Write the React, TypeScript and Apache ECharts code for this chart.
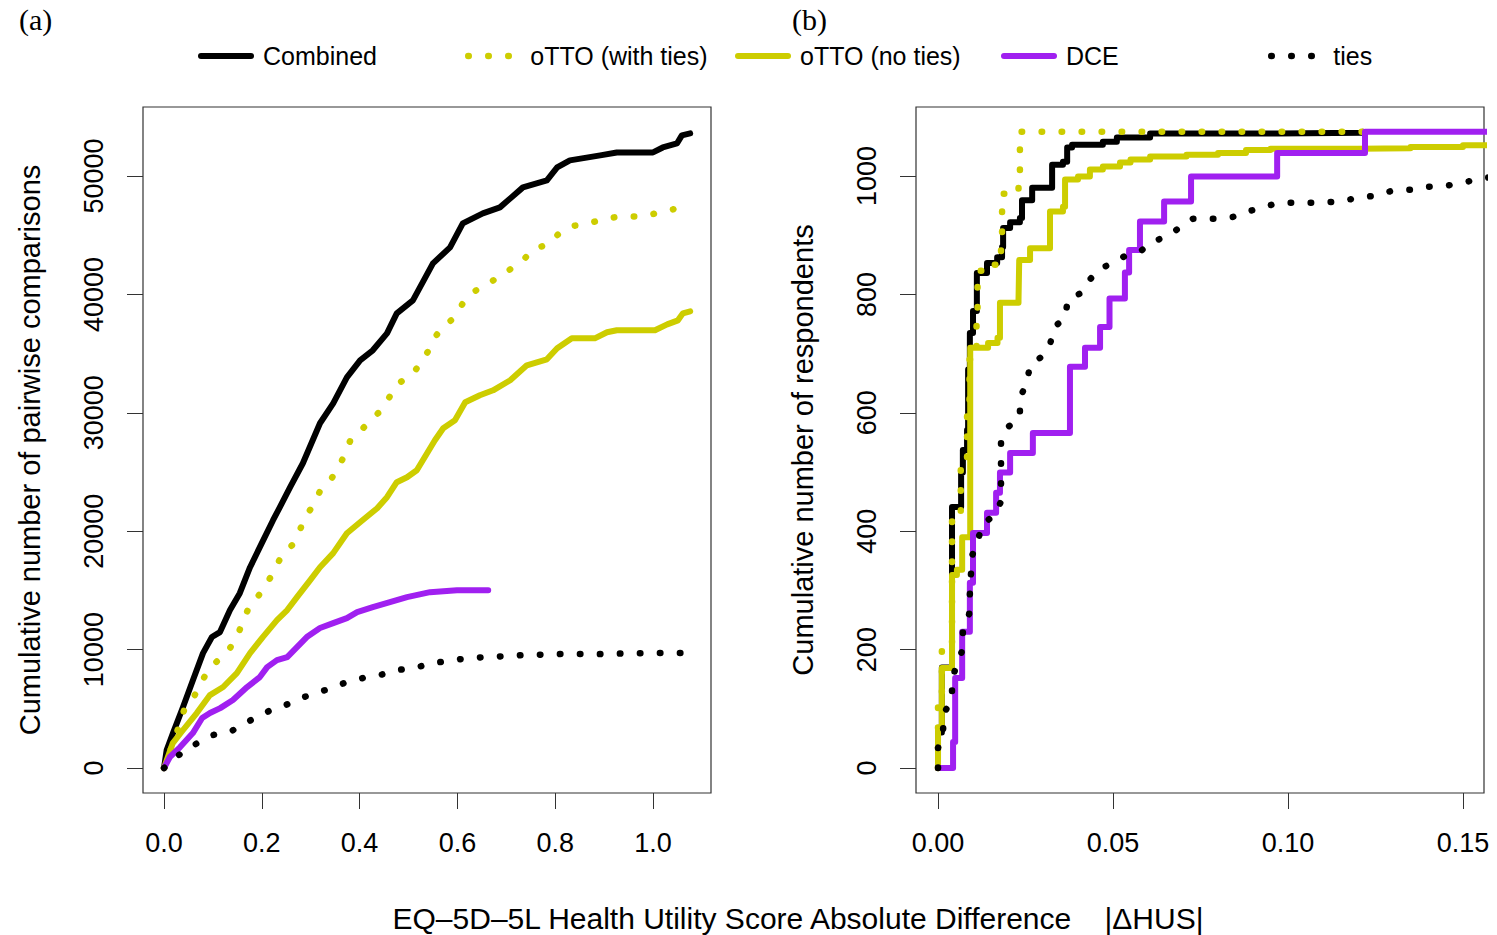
import React, { useEffect, useRef } from "react";
import * as echarts from "echarts";

// Series identity, shared by both panels
const seriesNames = ["Combined", "oTTO (with ties)", "oTTO (no ties)", "DCE", "ties"];
const seriesColors = ["#000000", "#CDCD00", "#CDCD00", "#A020F0", "#000000"];
const seriesDotted = [false, true, false, false, true];

// Tick values
const xTicksA = [0, 0.2, 0.4, 0.6, 0.8, 1.0];
const yTicksA = [0, 10000, 20000, 30000, 40000, 50000];
const xTicksB = [0, 0.05, 0.1, 0.15];
const yTicksB = [0, 200, 400, 600, 800, 1000];

// Panel (a): cumulative number of pairwise comparisons vs |ΔHUS|
const combinedA = [
  [0, 0], [0.0055, 1520], [0.0184, 2950], [0.0389, 5150], [0.0593, 7430], [0.0798, 9700],
  [0.098, 11060], [0.1145, 11480], [0.135, 13340], [0.155, 14770], [0.176, 16960], [0.196, 18650],
  [0.223, 20930], [0.237, 22030], [0.258, 23720], [0.284, 25740], [0.319, 29120], [0.346, 30800],
  [0.374, 33000], [0.401, 34430], [0.427, 35280], [0.456, 36710], [0.476, 38400], [0.509, 39500],
  [0.55, 42620], [0.585, 43970], [0.611, 46000], [0.652, 46840], [0.687, 47350], [0.734, 49040],
  [0.783, 49630], [0.804, 50720], [0.83, 51320], [0.892, 51740], [0.926, 51990], [1.0, 51990],
  [1.02, 52410], [1.049, 52750], [1.059, 53430], [1.076, 53600],
];
const withTiesA = [
  [0, 0], [0.015, 1700], [0.033, 3800], [0.043, 5150], [0.063, 6160], [0.09, 8270], [0.115, 9280],
  [0.135, 10130], [0.151, 11230], [0.162, 12490], [0.176, 13760], [0.194, 14600], [0.211, 15610],
  [0.227, 16800], [0.241, 17980], [0.262, 18820], [0.276, 19920], [0.288, 21100], [0.305, 22200],
  [0.319, 23380], [0.339, 24220], [0.356, 25320], [0.37, 26500], [0.382, 27770], [0.405, 28610],
  [0.425, 29460], [0.446, 30300], [0.462, 31400], [0.479, 32490], [0.507, 33170], [0.524, 34180],
  [0.54, 35190], [0.554, 36380], [0.571, 37300], [0.595, 38060], [0.611, 39250], [0.63, 40170],
  [0.658, 40770], [0.683, 41440], [0.708, 42120], [0.734, 42880], [0.755, 43800], [0.785, 44230],
  [0.806, 45070], [0.832, 45750], [0.869, 46000], [0.902, 46420], [0.939, 46590], [0.98, 46590],
  [1.014, 46930], [1.049, 47260], [1.07, 48110],
];
const noTiesA = [
  [0, 0], [0.018, 2110], [0.039, 3210], [0.067, 4640], [0.094, 6160], [0.121, 6840], [0.149, 8020],
  [0.176, 9710], [0.202, 11060], [0.231, 12490], [0.252, 13340], [0.272, 14430], [0.299, 15870],
  [0.319, 16960], [0.346, 18150], [0.374, 19830], [0.401, 20760], [0.436, 21940], [0.456, 22870],
  [0.476, 24140], [0.497, 24560], [0.517, 25150], [0.538, 26590], [0.554, 27680], [0.571, 28700],
  [0.595, 29370], [0.616, 30890], [0.646, 31480], [0.673, 31900], [0.708, 32750], [0.742, 34010],
  [0.783, 34520], [0.804, 35450], [0.834, 36290], [0.881, 36290], [0.906, 36800], [0.926, 36970],
  [1.004, 36970], [1.029, 37470], [1.051, 37810], [1.061, 38400], [1.076, 38570],
];
const dceA = [
  [0, 0], [0.012, 930], [0.033, 1770], [0.059, 2950], [0.078, 4220], [0.094, 4640], [0.115, 5060],
  [0.141, 5740], [0.17, 6840], [0.196, 7680], [0.211, 8520], [0.231, 9110], [0.252, 9370],
  [0.272, 10210], [0.292, 11060], [0.319, 11820], [0.346, 12240], [0.374, 12660], [0.395, 13170],
  [0.427, 13590], [0.462, 14010], [0.497, 14430], [0.544, 14850], [0.599, 15020], [0.663, 15020],
];
const tiesA = [
  [0, 0], [0.022, 840], [0.047, 1600], [0.072, 2190], [0.1, 2790], [0.135, 3040], [0.162, 3710],
  [0.19, 4300], [0.219, 4900], [0.249, 5320], [0.28, 5910], [0.311, 6330], [0.342, 6750],
  [0.374, 7260], [0.407, 7600], [0.442, 7850], [0.476, 8270], [0.513, 8440], [0.546, 8860],
  [0.583, 9030], [0.62, 9280], [0.66, 9370], [0.699, 9450], [0.738, 9540], [0.81, 9620],
  [0.89, 9620], [0.97, 9700], [1.072, 9710],
];

// Panel (b): cumulative number of respondents vs |ΔHUS| (step functions)
const combinedB = [
  [0, 0], [0, 60], [0.0011, 170], [0.004, 441], [0.0066, 499], [0.0071, 537], [0.0083, 571],
  [0.0086, 673], [0.0091, 735], [0.01, 772], [0.0111, 836], [0.014, 853], [0.0169, 863],
  [0.0183, 880], [0.0186, 912], [0.0206, 922], [0.0234, 929], [0.024, 959], [0.0269, 980],
  [0.0326, 1019], [0.0357, 1024], [0.0369, 1048], [0.0383, 1053], [0.0471, 1058], [0.0511, 1065],
  [0.0606, 1072], [0.0969, 1073], [0.1214, 1075],
];
const withTiesB = [
  [0, 0], [0, 104], [0.0011, 199], [0.004, 424], [0.0065, 520], [0.0083, 600], [0.009, 690],
  [0.0094, 712], [0.011, 770], [0.0113, 840], [0.0157, 850], [0.0177, 870], [0.018, 905],
  [0.0183, 940], [0.0186, 970], [0.023, 980], [0.0234, 1075], [0.1214, 1075],
];
const noTiesB = [
  [0, 0], [0, 68], [0.0011, 169], [0.004, 326], [0.0054, 335], [0.0069, 390], [0.0092, 710],
  [0.0143, 718], [0.017, 727], [0.0177, 786], [0.023, 791], [0.0232, 858], [0.0263, 878],
  [0.032, 940], [0.0357, 948], [0.0363, 994], [0.04, 999], [0.0434, 1011], [0.0471, 1016],
  [0.052, 1023], [0.055, 1028], [0.0606, 1033], [0.071, 1036], [0.08, 1039], [0.088, 1044],
  [0.095, 1046], [0.12, 1047], [0.135, 1049], [0.15, 1052], [0.2, 1053],
];
const dceB = [
  [0, 0], [0.0043, 44], [0.0049, 152], [0.0069, 230], [0.0091, 313], [0.01, 397], [0.014, 431],
  [0.0166, 465], [0.0177, 499], [0.0206, 532], [0.0271, 566], [0.0377, 678], [0.042, 710],
  [0.0463, 745], [0.049, 793], [0.0534, 837], [0.0546, 875], [0.0577, 923], [0.0646, 957],
  [0.0723, 999], [0.0969, 1039], [0.122, 1075], [0.2, 1075],
];
const tiesB = [
  [0, 0], [0, 34], [0.0014, 59], [0.0017, 93], [0.004, 115], [0.004, 149], [0.0054, 176],
  [0.0071, 201], [0.0071, 235], [0.0089, 260], [0.0091, 294], [0.0094, 326], [0.0097, 358],
  [0.0114, 384], [0.0126, 412], [0.016, 426], [0.018, 450], [0.018, 483], [0.018, 521],
  [0.018, 554], [0.02, 576], [0.0234, 592], [0.0234, 625], [0.0254, 651], [0.0263, 681],
  [0.0297, 695], [0.032, 715], [0.0331, 744], [0.0363, 761], [0.0371, 791], [0.0411, 803],
  [0.0434, 825], [0.046, 843], [0.05, 853], [0.054, 867], [0.0583, 875], [0.0614, 889],
  [0.0657, 899], [0.0691, 913], [0.0729, 928], [0.0791, 928], [0.0843, 931], [0.0886, 940],
  [0.0929, 948], [0.098, 955], [0.1097, 955], [0.1149, 957], [0.1197, 963], [0.1251, 967],
  [0.1297, 975], [0.1354, 977], [0.1403, 982], [0.1457, 984], [0.1509, 990], [0.1557, 997],
  [0.16, 998],
];

const panelAData = [combinedA, withTiesA, noTiesA, dceA, tiesA];
const panelBData = [combinedB, withTiesB, noTiesB, dceB, tiesB];
const panelBStepped = [true, true, true, true, false];

const SANS = "'Liberation Sans', Arial, Helvetica, sans-serif";
const SERIF = "'Liberation Serif', 'Times New Roman', serif";
const FRAME = "#333333";

function lineSeries(i: number, data: number[][], panel: number, stepped: boolean) {
  const color = seriesColors[i];
  return {
    type: "line",
    name: seriesNames[i],
    xAxisIndex: panel,
    yAxisIndex: panel,
    data,
    symbol: "none",
    step: stepped ? "end" : false,
    clip: true,
    silent: true,
    z: 2 + i,
    itemStyle: { color },
    lineStyle: {
      color,
      width: seriesDotted[i] ? 6.5 : 6,
      type: seriesDotted[i] ? [0.5, 19.5] : "solid",
      cap: "round",
      join: "round",
    },
  };
}

function xAxis(grid: number, min: number, max: number, ticks: number[], digits: number) {
  return {
    type: "value",
    gridIndex: grid,
    position: "bottom",
    min,
    max,
    axisLine: { show: false, onZero: false },
    splitLine: { show: false },
    axisTick: {
      show: true,
      inside: false,
      length: 16,
      customValues: ticks,
      lineStyle: { color: FRAME, width: 1 },
    },
    axisLabel: {
      show: true,
      customValues: ticks,
      margin: 36,
      fontFamily: SANS,
      fontSize: 27,
      color: "#000",
      formatter: (v: number) => v.toFixed(digits),
    },
  };
}

function yAxis(grid: number, min: number, max: number, ticks: number[], title: string) {
  return {
    type: "value",
    gridIndex: grid,
    position: "left",
    min,
    max,
    name: title,
    nameLocation: "middle",
    nameGap: 99,
    nameRotate: 90,
    nameTextStyle: { fontFamily: SANS, fontSize: 29, color: "#000" },
    axisLine: { show: false, onZero: false },
    splitLine: { show: false },
    axisTick: {
      show: true,
      inside: false,
      length: 16,
      customValues: ticks,
      lineStyle: { color: FRAME, width: 1 },
    },
    axisLabel: {
      show: true,
      customValues: ticks,
      rotate: 90,
      margin: 36,
      fontFamily: SANS,
      fontSize: 27,
      color: "#000",
      formatter: (v: number) => String(v),
    },
  };
}

const legendLeft = [193, 460, 730, 996, 1263];

export default function App() {
  const ref = useRef<HTMLDivElement>(null);

  useEffect(() => {
    if (!ref.current) return;
    const chart = echarts.init(ref.current, undefined, { renderer: "svg" });

    const series = [
      ...panelAData.map((d, i) => lineSeries(i, d, 0, false)),
      ...panelBData.map((d, i) => lineSeries(i, d, 1, panelBStepped[i])),
    ];

    // One legend per entry so each key sits in its own fixed column
    const legends = seriesNames.map((name, i) => ({
      data: [name],
      left: legendLeft[i],
      top: 36,
      orient: "horizontal",
      itemWidth: 50,
      itemHeight: 30,
      selectedMode: false,
      itemStyle: { opacity: 0 },
      lineStyle: { width: seriesDotted[i] ? 6.5 : 6 },
      textStyle: {
        fontFamily: SANS,
        fontSize: 25,
        color: "#000",
        lineHeight: 30,
        padding: [0, 0, 0, 7],
      },
    }));

    chart.setOption({
      animation: false,
      backgroundColor: "#ffffff",
      grid: [
        { left: 143, top: 107, width: 568, height: 686, show: true, borderColor: FRAME, borderWidth: 1.2, backgroundColor: "transparent" },
        { left: 916, top: 107, width: 568, height: 686, show: true, borderColor: FRAME, borderWidth: 1.2, backgroundColor: "transparent" },
      ],
      xAxis: [
        xAxis(0, -0.04294, 1.11861, xTicksA, 1),
        xAxis(1, -0.00629, 0.156, xTicksB, 2),
      ],
      yAxis: [
        yAxis(0, -2111, 55828, yTicksA, "Cumulative number of pairwise comparisons"),
        yAxis(1, -42.2, 1116.6, yTicksB, "Cumulative number of respondents"),
      ],
      legend: legends,
      graphic: [
        {
          type: "text",
          left: 19,
          top: 4,
          style: { text: "(a)", font: `30px ${SERIF}`, fill: "#000" },
        },
        {
          type: "text",
          left: 792,
          top: 4,
          style: { text: "(b)", font: `30px ${SERIF}`, fill: "#000" },
        },
        {
          type: "text",
          x: 798,
          y: 918,
          style: {
            text: "EQ\u20135D\u20135L Health Utility Score Absolute Difference\u00A0\u00A0\u00A0\u00A0|\u0394HUS|",
            font: `30px ${SANS}`,
            fill: "#000",
            align: "center",
            verticalAlign: "middle",
          },
        },
      ],
      series,
    });

    return () => chart.dispose();
  }, []);

  return (
    <div
      ref={ref}
      style={{ position: "absolute", left: 0, top: 0, width: 1497, height: 935, background: "#fff" }}
    />
  );
}
